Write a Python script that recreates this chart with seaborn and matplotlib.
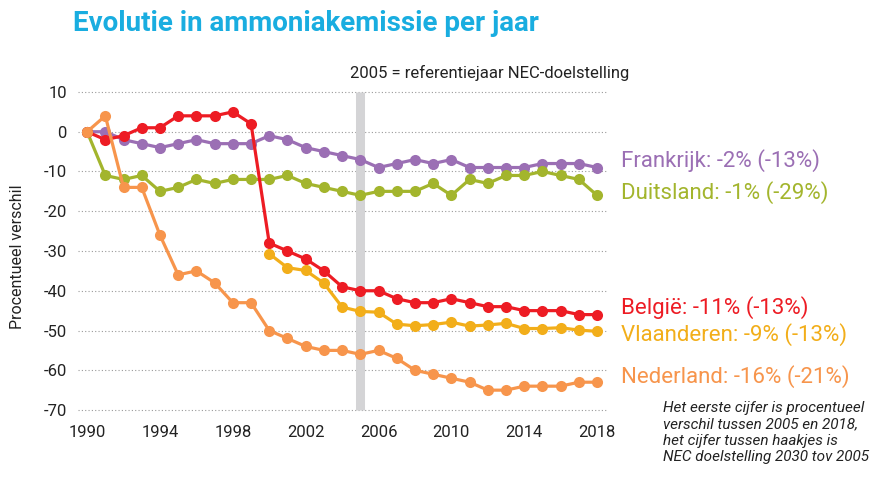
"""Evolutie in ammoniakemissie per jaar - lijnen per land"""

import numpy as np
import pandas as pd
import matplotlib.pyplot as plt
import seaborn as sns

# Data (procentueel verschil t.o.v. 1990)
years = list(range(1990, 2019))
frankrijk = [0, 0, -2, -3, -4, -3, -2, -3, -3, -3, -1, -2, -4, -5, -6,
             -7, -9, -8, -7, -8, -7, -9, -9, -9, -9, -8, -8, -8, -9]
duitsland = [0, -11, -12, -11, -15, -14, -12, -13, -12, -12, -12, -11, -13, -14, -15,
             -16, -15, -15, -15, -13, -16, -12, -13, -11, -11, -10, -11, -12, -16]
belgie = [0, -2, -1, 1, 1, 4, 4, 4, 5, 2, -28, -30, -32, -35, -39,
          -40, -40, -42, -43, -43, -42, -43, -44, -44, -45, -45, -45, -46, -46]
vlaanderen_years = list(range(2000, 2019))
vlaanderen = [-30.7, -34.2, -34.9, -38.1, -44.1, -45.2, -45.4, -48.4, -48.8, -48.5,
              -47.9, -48.9, -48.6, -48.2, -49.5, -49.5, -49.3, -49.9, -50.2]
nederland = [0, 4, -14, -14, -26, -36, -35, -38, -43, -43, -50, -52, -54, -55, -55,
             -56, -55, -57, -60, -61, -62, -63, -65, -65, -64, -64, -64, -63, -63]

series = ["Frankrijk", "Duitsland", "België", "Vlaanderen", "Nederland"]
labels = ["Frankrijk: -2% (-13%)", "Duitsland: -1% (-29%)", "België: -11% (-13%)",
          "Vlaanderen: -9% (-13%)", "Nederland: -16% (-21%)"]
colors = ["#9b6fb4", "#a3b52d", "#ed1c24", "#f2ae1a", "#f7954c"]

# Long format for seaborn
rows = []
for name, ys, vals in [("Frankrijk", years, frankrijk), ("Duitsland", years, duitsland),
                       ("België", years, belgie), ("Vlaanderen", vlaanderen_years, vlaanderen),
                       ("Nederland", years, nederland)]:
    for y, v in zip(ys, vals):
        rows.append({"Jaar": y, "Verschil": v, "Regio": name})
df = pd.DataFrame(rows)

sns.set_style("white")
plt.rcParams["font.family"] = ["Roboto", "DejaVu Sans"]
plt.rcParams["axes.unicode_minus"] = False

fig = plt.figure(figsize=(8.82, 4.78), dpi=100)
ax = fig.add_axes([78 / 882, 1 - 414 / 478, 530 / 882, 326 / 478])

# Referentiejaar 2005
ax.vlines(2005, -70, 10, color="#d4d4d6", linewidth=6.5, zorder=1)

sns.lineplot(data=df, x="Jaar", y="Verschil", hue="Regio", hue_order=series,
             palette=colors, marker="o", markersize=8, markeredgewidth=0,
             linewidth=2.3, legend=False, ax=ax, zorder=3)

ax.set_xlim(1989.5, 2018.6)
ax.set_ylim(-71, 11)
ax.set_yticks(np.arange(-70, 11, 10))
ax.set_xticks(np.arange(1990, 2019, 4))
ax.grid(axis="y", linestyle=(0, (1, 2)), color="#9a9a9a", linewidth=0.8)
ax.grid(axis="x", visible=False)
for s in ax.spines.values():
    s.set_visible(False)
ax.tick_params(length=0, labelsize=12, colors="#222222", pad=8)
ax.set_xlabel("")
ax.set_ylabel("")
fig.text(18 / 882, 1 - 257 / 478, "Procentueel verschil", rotation=90,
         fontsize=11.5, color="#222222", ha="center", va="center")

# Titels
fig.text(73 / 882, 1 - 31 / 478, "Evolutie in ammoniakemissie per jaar",
         fontsize=20, fontweight="bold", color="#19ade0", va="baseline")
fig.text(490 / 882, 1 - 73 / 478, "2005 = referentiejaar NEC-doelstelling",
         fontsize=12, color="#222222", ha="center", va="center")

# Labels rechts
label_y = [161, 193, 308, 335, 377]
for txt, c, yy in zip(labels, colors, label_y):
    fig.text(621 / 882, 1 - yy / 478, txt, fontsize=16, color=c, va="center")

fig.text(663 / 882, 1 - 401 / 478,
         "Het eerste cijfer is procentueel\nverschil tussen 2005 en 2018,\n"
         "het cijfer tussen haakjes is\nNEC doelstelling 2030 tov 2005",
         fontsize=11, style="italic", color="#222222", va="top", linespacing=1.22)

fig.savefig("out.png", dpi=100)
